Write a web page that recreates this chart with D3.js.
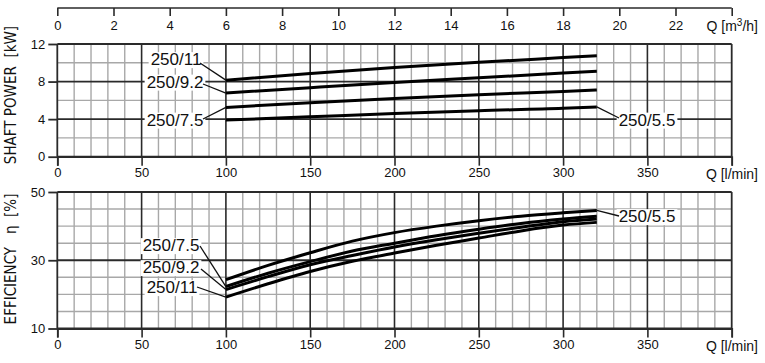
<!DOCTYPE html>
<html><head><meta charset="utf-8">
<script src="https://cdn.jsdelivr.net/npm/d3@7"></script>
<style>html,body{margin:0;padding:0;background:#fff;}svg{display:block;}</style>
</head><body><svg id="c" width="765" height="363"></svg>
<script>
// ---- data ----
const models = ["250/5.5", "250/7.5", "250/9.2", "250/11"];
const powerQ = [100, 150, 200, 250, 300, 320];
const power55 = [3.9, 4.25, 4.6, 4.9, 5.15, 5.3];
const power75 = [5.25, 5.75, 6.2, 6.6, 6.95, 7.1];
const power92 = [6.78, 7.35, 7.9, 8.4, 8.9, 9.1];
const power11 = [8.15, 8.85, 9.5, 10.05, 10.55, 10.75];
const effQ = [100, 125, 150, 175, 200, 225, 250, 275, 300, 320];
const eff55 = [24.3, 28.5, 32.2, 35.6, 38.1, 40.0, 41.6, 42.9, 43.9, 44.6];
const eff75 = [22.3, 26.2, 29.6, 32.7, 35.0, 37.2, 39.1, 40.8, 42.1, 42.9];
const eff92 = [21.4, 25.2, 28.7, 31.4, 33.9, 36.0, 37.9, 39.7, 41.3, 42.1];
const eff11 = [19.2, 23.1, 26.7, 29.7, 32.1, 34.4, 36.5, 38.6, 40.3, 41.1];
const qTicks = [0, 50, 100, 150, 200, 250, 300, 350];
const m3hTicks = [0, 2, 4, 6, 8, 10, 12, 14, 16, 18, 20, 22];
const powerTicks = [0, 4, 8, 12];
const effTicks = [10, 30, 50];

const svg = d3.select("#c");
const X0 = 57.3, X1 = 731.7;
const x = d3.scaleLinear().domain([0, 400]).range([X0, X1]);
const xm = d3.scaleLinear().domain([0, 24]).range([X0, X1]);
const yP = d3.scaleLinear().domain([0, 12]).range([156.7, 44]);
const yE = d3.scaleLinear().domain([10, 50]).range([328.5, 192]);
const FONT = "'Liberation Sans', Arial, sans-serif";
const NARROW = "'Liberation Sans Narrow', 'DejaVu Sans Condensed', sans-serif";
const MINOR = "#a8a8a8", MAJOR = "#2a2a2a";

function panel(y, yMinor, yMajor, yFrame, tickVals) {
  const g = svg.append("g");
  const minorQ = d3.range(10, 400, 10).filter(q => q % 50 !== 0);
  g.selectAll(".vm").data(minorQ).join("line")
    .attr("x1", d => x(d)).attr("x2", d => x(d))
    .attr("y1", y.range()[0]).attr("y2", y.range()[1])
    .attr("stroke", MINOR).attr("stroke-width", 1.4);
  g.selectAll(".hm").data(yMinor).join("line")
    .attr("x1", X0).attr("x2", X1).attr("y1", d => y(d)).attr("y2", d => y(d))
    .attr("stroke", MINOR).attr("stroke-width", 1.4);
  g.selectAll(".vM").data(d3.range(50, 400, 50)).join("line")
    .attr("x1", d => x(d)).attr("x2", d => x(d))
    .attr("y1", y.range()[0]).attr("y2", y.range()[1])
    .attr("stroke", MAJOR).attr("stroke-width", 1.6);
  g.selectAll(".hM").data(yMajor.concat(yFrame)).join("line")
    .attr("x1", X0).attr("x2", X1).attr("y1", d => y(d)).attr("y2", d => y(d))
    .attr("stroke", MAJOR).attr("stroke-width", 1.8);
  g.selectAll(".vF").data([0, 400]).join("line")
    .attr("x1", d => x(d)).attr("x2", d => x(d))
    .attr("y1", y.range()[0]).attr("y2", y.range()[1])
    .attr("stroke", MAJOR).attr("stroke-width", 1.8);
  const ay = svg.append("g").attr("transform", `translate(${X0},0)`)
    .call(d3.axisLeft(y).tickValues(tickVals).tickSize(9).tickPadding(3).tickFormat(d3.format("d")));
  ay.select(".domain").remove();
  ay.selectAll("line").attr("stroke", MAJOR).attr("stroke-width", 1.8);
  ay.selectAll("text").attr("font-family", FONT).attr("font-size", 13).attr("fill", "#111");
  const ax = svg.append("g").attr("transform", `translate(0,${y.range()[0]})`)
    .call(d3.axisBottom(x).tickValues(qTicks.concat([400])).tickSize(9).tickPadding(2).tickFormat(d => d === 400 ? "" : d));
  ax.select(".domain").attr("stroke", MAJOR).attr("stroke-width", 1.8);
  ax.selectAll("line").attr("stroke", MAJOR).attr("stroke-width", 1.6);
  ax.selectAll("text").attr("font-family", FONT).attr("font-size", 13).attr("fill", "#111");
  svg.append("text").attr("x", 758).attr("y", y.range()[0] + 22).attr("text-anchor", "end")
    .attr("font-family", FONT).attr("font-size", 14).attr("fill", "#111").text("Q [l/min]");
}

panel(yP, [2, 6, 10], [4, 8], [0, 12], powerTicks);
panel(yE, [15, 20, 25, 35, 40, 45], [30], [10, 50], effTicks);

// top axis m3/h
const at = svg.append("g").attr("transform", "translate(0,8)")
  .call(d3.axisBottom(xm).tickValues(m3hTicks.concat([24])).tickSize(8).tickPadding(5).tickFormat(d => d === 24 ? "" : d));
at.select(".domain").attr("stroke", MAJOR).attr("stroke-width", 1.6).attr("d", `M${X0},0H${X1}`);
at.selectAll("line").attr("stroke", MAJOR).attr("stroke-width", 1.6);
at.selectAll("text").attr("font-family", FONT).attr("font-size", 13).attr("fill", "#111");
const qm = svg.append("text").attr("x", 758).attr("y", 31).attr("text-anchor", "end")
  .attr("font-family", FONT).attr("font-size", 14).attr("fill", "#111");
qm.append("tspan").text("Q [m");
qm.append("tspan").attr("dy", -5).attr("font-size", 10).text("3");
qm.append("tspan").attr("dy", 5).text("/h]");

// axis titles
svg.append("text").attr("transform", "translate(16,95) rotate(-90)").attr("text-anchor", "middle")
  .style("white-space", "pre").attr("xml:space", "preserve")
  .attr("font-family", NARROW).attr("font-size", 15).attr("fill", "#111").text("SHAFT POWER  [kW]");
svg.append("text").attr("transform", "translate(16,259) rotate(-90)").attr("text-anchor", "middle")
  .style("white-space", "pre").attr("xml:space", "preserve")
  .attr("font-family", NARROW).attr("font-size", 15).attr("fill", "#111").text("EFFICIENCY   η  [%]");

// curves
const line = (y) => d3.line().x(d => x(d[0])).y(d => y(d[1])).curve(d3.curveMonotoneX);
const pSeries = [power55, power75, power92, power11];
const eSeries = [eff55, eff75, eff92, eff11];
pSeries.forEach(s => svg.append("path").datum(powerQ.map((q, i) => [q, s[i]]))
  .attr("d", line(yP)).attr("fill", "none").attr("stroke", "#000").attr("stroke-width", 3));
eSeries.forEach(s => svg.append("path").datum(effQ.map((q, i) => [q, s[i]]))
  .attr("d", line(yE)).attr("fill", "none").attr("stroke", "#000").attr("stroke-width", 3));

// labels
function label(txt, cx, cy, anchor, px, py, lx, ly) {
  const t = svg.append("text").attr("x", cx).attr("y", cy).attr("dy", "0.36em")
    .attr("text-anchor", anchor).attr("font-family", FONT).attr("font-size", 17).attr("fill", "#111").text(txt);
  const b = t.node().getBBox();
  svg.insert("rect", () => t.node()).attr("x", b.x - 2).attr("y", b.y + 2).attr("width", b.width + 4).attr("height", b.height - 3).attr("fill", "#fff");
  svg.append("line").attr("x1", lx).attr("y1", ly).attr("x2", px).attr("y2", py)
    .attr("stroke", "#111").attr("stroke-width", 1.3);
}
label(models[3], 176, 59, "middle", x(powerQ[0]), yP(power11[0]), 200, 63);
label(models[2], 175, 81.5, "middle", x(powerQ[0]), yP(power92[0]), 203, 84);
label(models[1], 175, 119.5, "middle", x(powerQ[0]), yP(power75[0]), 203, 119);
label(models[0], 647, 119.5, "middle", x(powerQ[5]), yP(power55[5]), 619, 118);
label(models[1], 171, 245, "middle", x(effQ[0]), yE(eff75[0]), 200, 246);
label(models[2], 171, 267, "middle", x(effQ[0]), yE(eff92[0]), 201, 269);
label(models[3], 172, 287, "middle", x(effQ[0]), yE(eff11[0]), 197, 287);
label(models[0], 647, 216, "middle", x(effQ[9]), yE(eff55[9]), 619, 216);
</script></body></html>
